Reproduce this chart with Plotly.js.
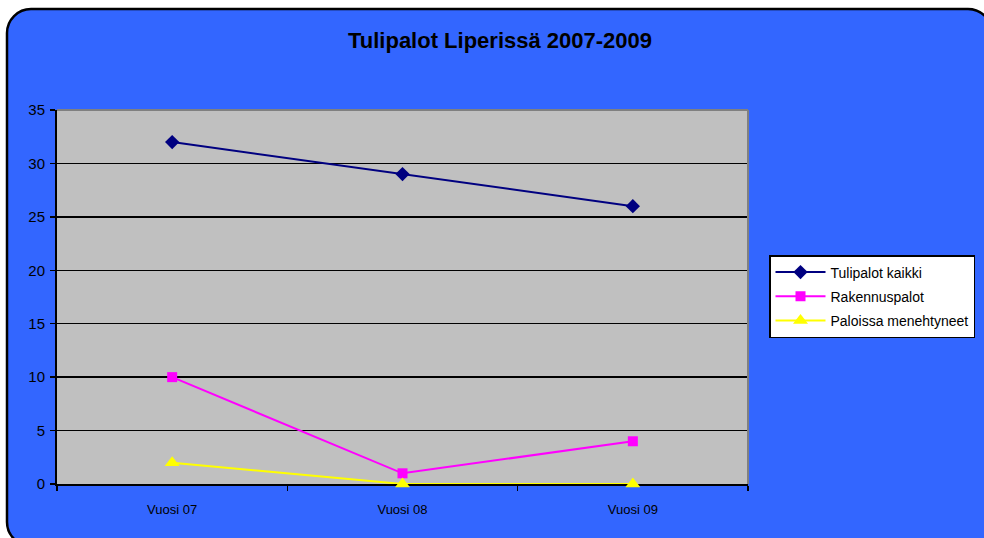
<!DOCTYPE html>
<html>
<head>
<meta charset="utf-8">
<script src="https://cdn.plot.ly/plotly-3.0.1.min.js"></script>
<style>html,body{margin:0;padding:0;background:#fff;}#chart{width:984px;height:538px;}</style>
</head>
<body>
<div id="chart"></div>
<script>
const categories = ["Vuosi 07", "Vuosi 08", "Vuosi 09"];
const tulipalotKaikki = [32, 29, 26];
const rakennuspalot = [10, 1, 4];
const paloissaMenehtyneet = [2, 0, 0];
const seriesNames = ["Tulipalot kaikki", "Rakennuspalot", "Paloissa menehtyneet"];
const yTicks = [0, 5, 10, 15, 20, 25, 30, 35];

const W = 984, H = 538;
const L = 57, R = 236, T = 110, B = 54;
const pw = W - L - R, ph = H - T - B;
function px(x) { return ((x - L) / pw).toFixed(5); }
function py(y) { return ((H - B - y) / ph).toFixed(5); }

// rounded outer frame in pixel coords converted to paper coords
const x0 = 7, y0 = 9, x1 = 992, y1 = 546, r = 24;
const k = 0.45;
const framePath =
  `M ${px(x0 + r)} ${py(y0)} L ${px(x1 - r)} ${py(y0)} ` +
  `C ${px(x1 - r * k)} ${py(y0)} ${px(x1)} ${py(y0 + r * k)} ${px(x1)} ${py(y0 + r)} ` +
  `L ${px(x1)} ${py(y1 - r)} ` +
  `C ${px(x1)} ${py(y1 - r * k)} ${px(x1 - r * k)} ${py(y1)} ${px(x1 - r)} ${py(y1)} ` +
  `L ${px(x0 + r)} ${py(y1)} ` +
  `C ${px(x0 + r * k)} ${py(y1)} ${px(x0)} ${py(y1 - r * k)} ${px(x0)} ${py(y1 - r)} ` +
  `L ${px(x0)} ${py(y0 + r)} ` +
  `C ${px(x0)} ${py(y0 + r * k)} ${px(x0 + r * k)} ${py(y0)} ${px(x0 + r)} ${py(y0)} Z`;

const traces = [
  {x: categories, y: tulipalotKaikki, name: seriesNames[0], legendgroup: "a", type: "scatter", mode: "lines+markers",
   line: {color: "#000080", width: 2}, marker: {symbol: "diamond", size: 11, color: "#000080"}},
  {x: categories, y: rakennuspalot, name: seriesNames[1], legendgroup: "b", type: "scatter", mode: "lines+markers",
   line: {color: "#FF00FF", width: 2}, marker: {symbol: "square", size: 10, color: "#FF00FF"}},
  {x: categories, y: paloissaMenehtyneet, name: seriesNames[2], legendgroup: "c", type: "scatter", mode: "lines+markers",
   line: {color: "#FFFF00", width: 2}, marker: {symbol: "triangle-up", size: 13, color: "#FFFF00"},
   cliponaxis: false}
];

const layout = {
  width: W, height: H,
  margin: {l: L, r: R, t: T, b: B},
  paper_bgcolor: "#ffffff",
  plot_bgcolor: "#C0C0C0",
  font: {family: "Liberation Sans, Arial, sans-serif", size: 13, color: "#000"},
  title: {text: "<b>Tulipalot Liperissä 2007-2009</b>", x: 500 / W, xanchor: "center",
          y: 1 - 40 / H, yanchor: "middle", font: {size: 22, color: "#000"}},
  showlegend: true,
  legend: {x: 769 / W, xref: "container", y: 1 - 255 / H, yref: "container",
           xanchor: "left", yanchor: "top", bgcolor: "#ffffff", bordercolor: "#000", borderwidth: 1.5,
           font: {family: "Liberation Sans, Arial, sans-serif", size: 14, color: "#000"},
           tracegroupgap: 3, itemwidth: 50},
  xaxis: {type: "category", range: [-0.5, 2.5], showgrid: false, zeroline: false,
          showline: true, linecolor: "#000", linewidth: 2, ticks: "outside", tickson: "boundaries",
          ticklen: 5, tickcolor: "#000", tickwidth: 1.5, tickfont: {size: 13}, ticklabelstandoff: 12,
          layer: "below traces", fixedrange: true},
  yaxis: {range: [0, 35], tickvals: yTicks, showgrid: true, gridcolor: "#000", gridwidth: 1.5,
          zeroline: false, showline: true, linecolor: "#000", linewidth: 2, ticks: "outside",
          ticklen: 5, tickcolor: "#000", tickwidth: 1.5, tickfont: {size: 15}, ticklabelstandoff: 2,
          layer: "below traces", fixedrange: true},
  shapes: [
    {type: "path", xref: "paper", yref: "paper", path: framePath, fillcolor: "#3366FF",
     line: {color: "#000", width: 2.5}, layer: "below"},
    {type: "rect", xref: "paper", yref: "paper", x0: 0, y0: 0, x1: 1, y1: 1,
     line: {width: 0}, fillcolor: "#C0C0C0", layer: "below"},
    {type: "line", xref: "paper", yref: "paper", x0: 0, y0: 1, x1: 1, y1: 1,
     line: {color: "#808080", width: 2}, layer: "above"},
    {type: "line", xref: "paper", yref: "paper", x0: 1, y0: 0, x1: 1, y1: 1,
     line: {color: "#808080", width: 2}, layer: "above"}
  ]
};

Plotly.newPlot("chart", traces, layout, {displayModeBar: false, staticPlot: true});
</script>
</body>
</html>
